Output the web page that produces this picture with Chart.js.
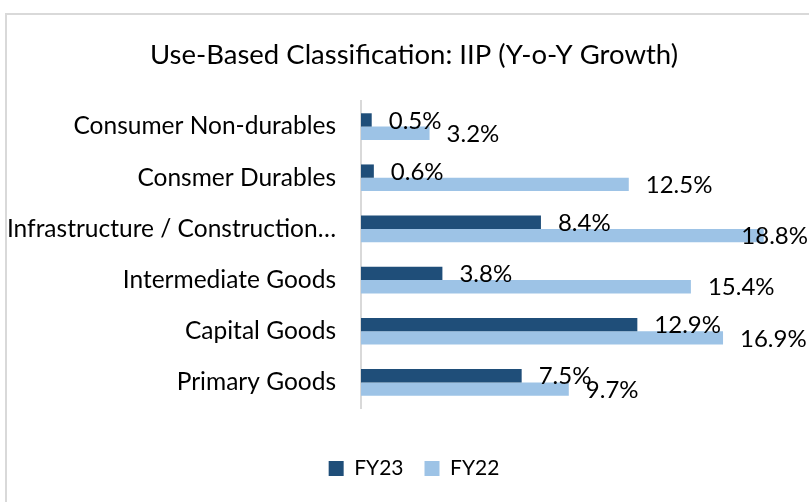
<!DOCTYPE html>
<html lang="en">
<head>
  <meta charset="UTF-8">
  <title>Use-Based Classification: IIP</title>
  <script src="https://cdn.jsdelivr.net/npm/chart.js@4.4.0/dist/chart.umd.min.js"></script>
  <style>
    html, body { margin: 0; padding: 0; background: #fff; overflow: hidden; }
    #frame { position: absolute; left: 5px; top: 13px; width: 840px; height: 520px;
             border-left: 2px solid #d9d9d9; border-top: 2px solid #d9d9d9; }
    /* a bit wider than the window so the title and legend centre where the original does */
    #chartContainer { position: absolute; left: 0; top: 0; width: 828px; height: 502px; }
  </style>
</head>
<body>
  <div id="frame"></div>
  <div id="chartContainer">
    <canvas id="iipChart"></canvas>
  </div>

  <script>
    const categories = [
      'Consumer Non-durables',
      'Consmer Durables',
      'Infrastructure / Construction…',
      'Intermediate Goods',
      'Capital Goods',
      'Primary Goods'
    ];
    const fy23 = [0.5, 0.6, 8.4, 3.8, 12.9, 7.5];
    const fy22 = [3.2, 12.5, 18.8, 15.4, 16.9, 9.7];

    const FONT = 'Lato, "Open Sans", sans-serif';
    const VIEW_W = 809;

    // value labels just past the end of each bar, pulled back if they would run off the page
    const barLabels = {
      id: 'barLabels',
      afterDatasetsDraw(chart) {
        const ctx = chart.ctx;
        ctx.save();
        ctx.font = '24px ' + FONT;
        ctx.fillStyle = '#000';
        ctx.textAlign = 'left';
        ctx.textBaseline = 'middle';
        chart.data.datasets.forEach((ds, i) => {
          chart.getDatasetMeta(i).data.forEach((bar, j) => {
            const txt = ds.data[j].toFixed(1) + '%';
            const w = ctx.measureText(txt).width;
            let x = bar.x + 17;
            if (x + w > VIEW_W - 1) x = VIEW_W - 1 - w;
            ctx.fillText(txt, x, bar.y + 1);
          });
        });
        ctx.restore();
      }
    };

    const ctx = document.getElementById('iipChart').getContext('2d');
    new Chart(ctx, {
      type: 'bar',
      data: {
        labels: categories,
        datasets: [
          { label: 'FY23', data: fy23, backgroundColor: '#1f4e79' },
          { label: 'FY22', data: fy22, backgroundColor: '#9dc3e6' }
        ]
      },
      options: {
        indexAxis: 'y',
        responsive: true,
        maintainAspectRatio: false,
        animation: false,
        datasets: { bar: { categoryPercentage: 0.52, barPercentage: 1 } },
        layout: { padding: { left: 0, right: 0, top: 14, bottom: 13 } },
        plugins: {
          title: {
            display: true,
            text: 'Use-Based Classification: IIP (Y-o-Y Growth)',
            color: '#000',
            font: { family: FONT, size: 27.5, weight: 'normal' },
            padding: { top: 25, bottom: 29 }
          },
          legend: {
            position: 'bottom',
            labels: {
              color: '#000',
              font: { family: FONT, size: 21 },
              boxWidth: 15,
              boxHeight: 15,
              padding: 21
            }
          },
          tooltip: { enabled: false }
        },
        scales: {
          x: {
            min: 0,
            max: 21.8,
            ticks: { display: false },
            grid: { display: false },
            border: { display: false },
            afterFit: s => { s.height = 29; }
          },
          y: {
            grid: { display: false, drawTicks: false },
            border: { display: true, color: '#d9d9d9', width: 2 },
            ticks: { color: '#000', font: { family: FONT, size: 24.5 }, padding: 25 },
            afterFit: s => { s.width = 361; }
          }
        }
      },
      plugins: [barLabels]
    });
  </script>
</body>
</html>
